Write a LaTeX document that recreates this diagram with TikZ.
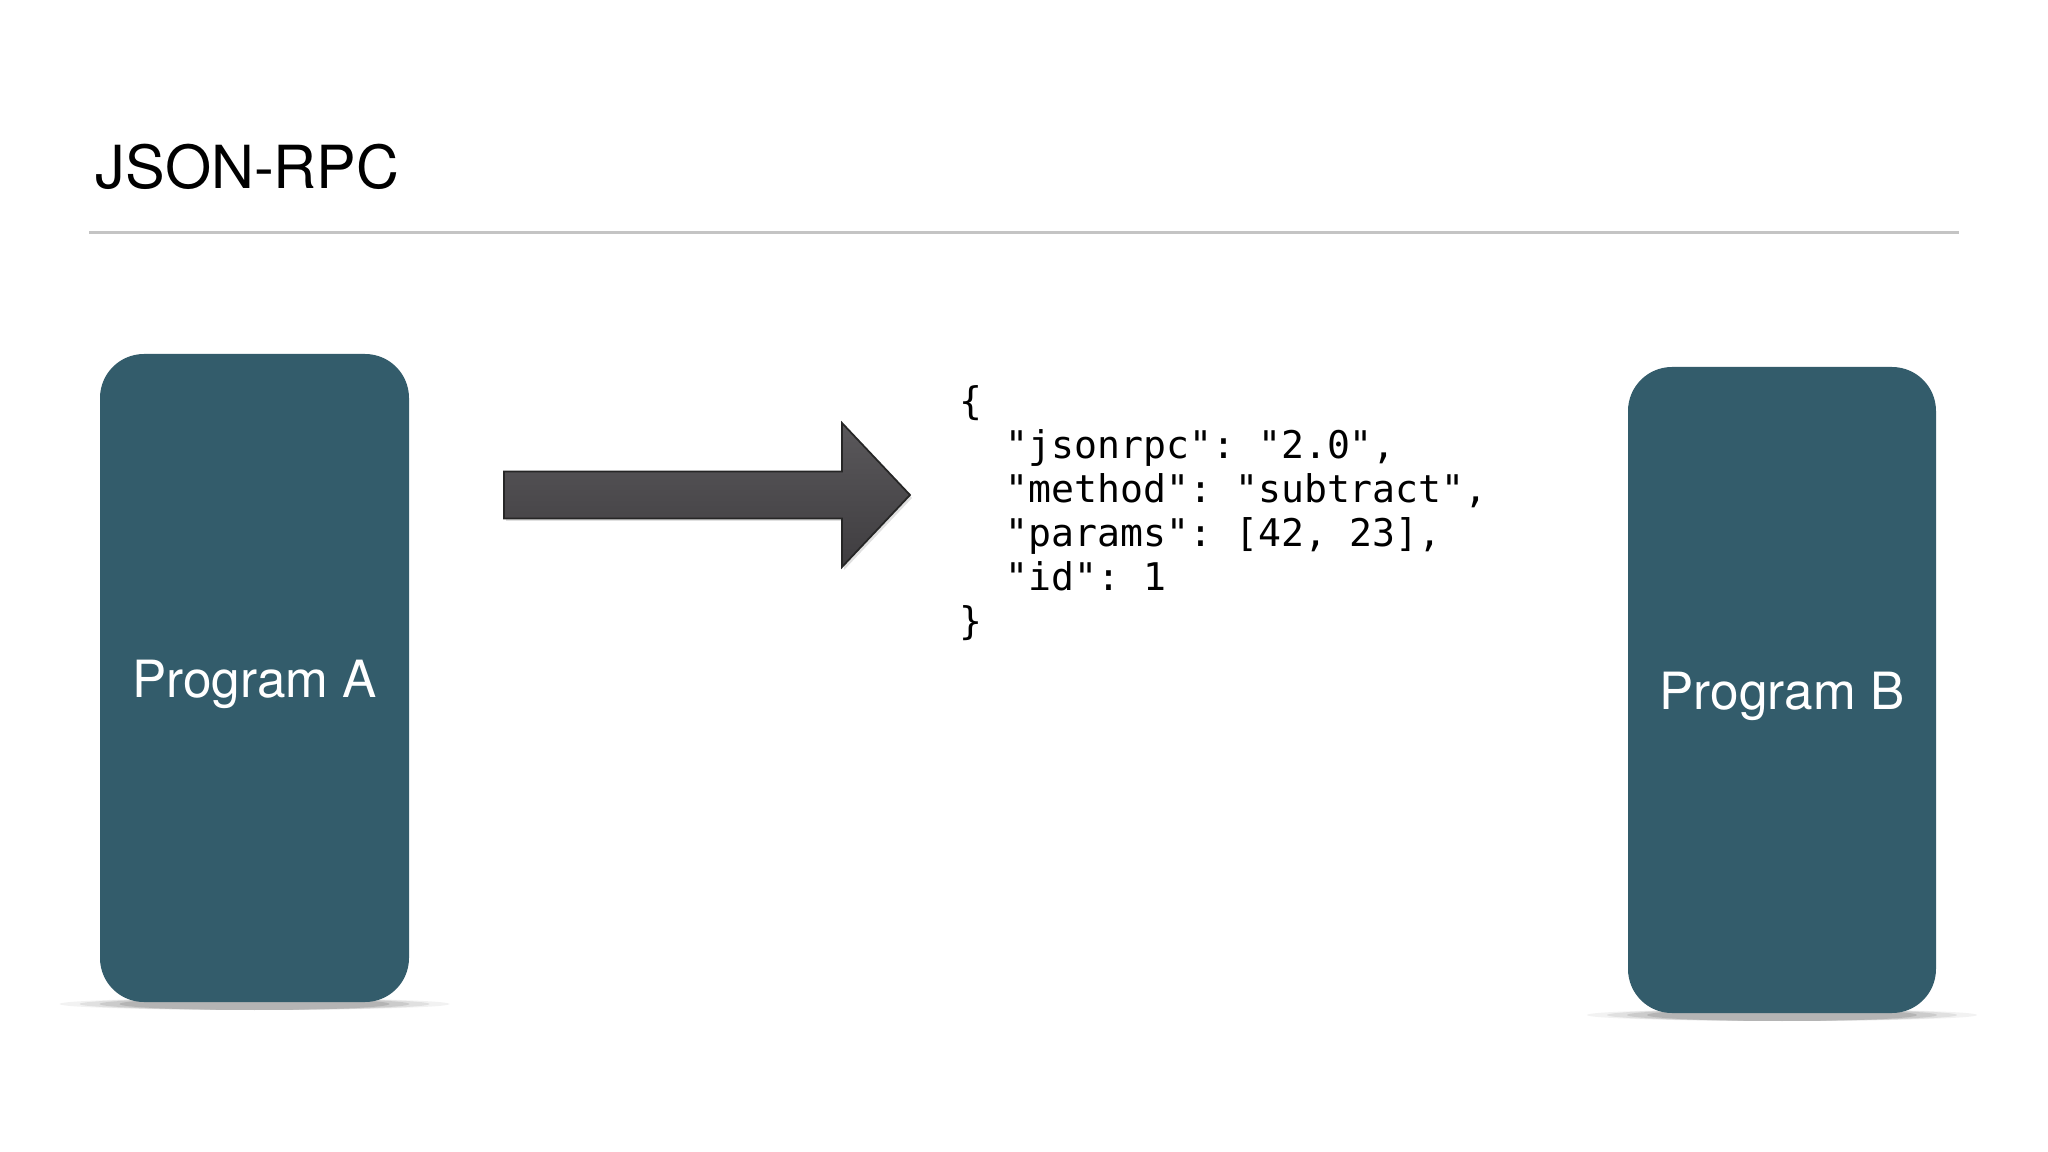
\documentclass[tikz,border=0pt]{standalone}
\usepackage{fontspec}
\setmainfont{TeX Gyre Heros}
\setmonofont{DejaVu Sans Mono}
\definecolor{boxteal}{HTML}{335C6B}
\definecolor{arrowtop}{HTML}{5A585B}
\definecolor{arrowbot}{HTML}{3F3D40}
\definecolor{rulegray}{HTML}{C4C4C4}
\tikzset{
  progbox/.style={fill=boxteal, draw=none, rounded corners=0.44cm},
  proglabel/.style={text=white, font=\fontsize{14.6}{17}\selectfont, inner sep=0pt},
  codetext/.style={font=\ttfamily\fontsize{10.85}{12.5}\selectfont, align=left,
    inner sep=0pt, text=black},
}
\begin{document}
\begin{tikzpicture}[x=1cm,y=1cm]
\useasboundingbox[fill=white] (0,0) rectangle (20.48,-11.52);
% title
\node[anchor=base west, inner sep=0pt, font=\fontsize{16.9}{20}\selectfont, text=black] (title) at (0.95,-1.89) {JSON-RPC};
\coordinate (ruleL) at (0.89,-2.325);
\coordinate (ruleR) at (19.59,-2.325);
\draw[rulegray, line width=0.7pt] (ruleL) -- (ruleR);
% soft base shadows
\foreach \cx/\cy in {2.545/-10.04, 17.82/-10.15}{
  \foreach \r/\o in {1.95/0.05, 1.75/0.07, 1.55/0.09, 1.35/0.11}{
    \fill[black, opacity=\o] (\cx,\cy) ellipse [x radius=\r, y radius=0.06];
  }
}
% program boxes
\path[progbox] (1.00,-3.54) rectangle (4.09,-10.02);
\node[proglabel] (progA) at (2.545,-6.84) {Program A};
\path[progbox] (16.28,-3.67) rectangle (19.36,-10.13);
\node[proglabel] (progB) at (17.82,-6.96) {Program B};
% block arrow
\fill[black, opacity=0.12] (5.06,-4.74) -- (8.44,-4.74) -- (8.44,-4.26) -- (9.12,-4.98) -- (8.44,-5.70) -- (8.44,-5.21) -- (5.06,-5.21) -- cycle;
\draw[draw=black!85, line width=0.5pt, top color=arrowtop, bottom color=arrowbot]
  (5.04,-4.715) -- (8.42,-4.715) -- (8.42,-4.23) -- (9.10,-4.95) -- (8.42,-5.67) -- (8.42,-5.185) -- (5.04,-5.185) -- cycle;
% JSON
\node[codetext, anchor=base west] (json) at (9.59,-6.34) {\{\\
\ \ "jsonrpc": "2.0",\\
\ \ "method": "subtract",\\
\ \ "params": [42, 23],\\
\ \ "id": 1\\
\}};
\end{tikzpicture}
\end{document}
